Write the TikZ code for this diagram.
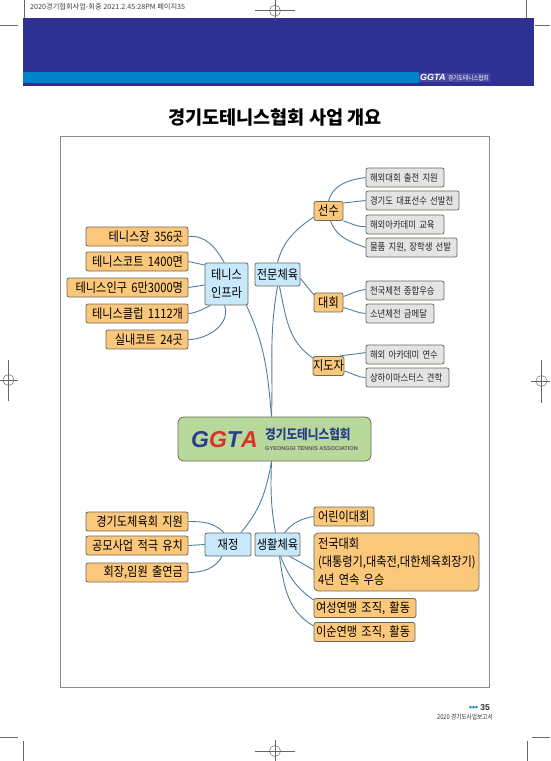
\documentclass[tikz,border=0pt]{standalone}
\usepackage{fontspec}
\setmainfont{Noto Sans CJK KR}
\newfontfamily\krnarrow[FakeStretch=0.86]{Noto Sans CJK KR}
\newfontfamily\logofont{Liberation Sans}
\definecolor{bandblue}{HTML}{2E3192}
\definecolor{bandcyan}{HTML}{0082C8}
\definecolor{linkblue}{HTML}{4F7F9F}
\definecolor{boxedge}{HTML}{6A6A5C}
\definecolor{orangefill}{HTML}{FBC77A}
\definecolor{bluefill}{HTML}{C7E9FB}
\definecolor{greyfill}{HTML}{E4E4E4}
\definecolor{greenfill}{HTML}{B9D89B}
\definecolor{logonavy}{HTML}{27408B}
\definecolor{logored}{HTML}{D8332A}
\usetikzlibrary{positioning, calc}
\tikzset{
  orangebox/.style = {draw=boxedge, fill=orangefill, thick, rounded corners=2pt,
                 inner xsep=5pt, inner ysep=0pt, minimum height=19pt,
                 font=\krnarrow\fontsize{13}{18}\selectfont, text=black},
  bluebox/.style = {draw=boxedge, fill=bluefill, thick, rounded corners=2pt,
                 inner sep=0pt, minimum height=23pt,
                 font=\krnarrow\fontsize{13}{18}\selectfont, text=black, align=center},
  greybox/.style = {draw=boxedge, fill=greyfill, thick, rounded corners=2pt,
                 inner xsep=4pt, inner ysep=0pt, minimum height=19pt,
                 font=\krnarrow\fontsize{9.7}{12}\selectfont, text=black!85},
  link/.style = {draw=linkblue, line width=0.9pt},
  printmark/.style = {draw=black!60, line width=0.5pt},
  markring/.style = {circle, draw=black!60, line width=0.5pt, minimum size=11pt, inner sep=0pt},
}
\begin{document}
\begin{tikzpicture}[x=1pt,y=-1pt]
  \useasboundingbox (0,0) rectangle (550,761);

  % -- header band
  \fill[bandblue] (23,18) rectangle (533.5,86);
  \fill[bandcyan] (23,72) rectangle (419,83);
  \node[fill=white, fill opacity=0.12, text opacity=1, inner sep=1pt, anchor=west, text=white,
        font=\logofont\bfseries\itshape\fontsize{9}{10}\selectfont] (toplogo) at (419,77.5)
        {GGTA \krnarrow\mdseries\upshape\fontsize{6.4}{7}\selectfont 경기도테니스협회};

  % -- print marks
  \node[anchor=west, inner sep=0pt, text=black!75, font=\fontsize{7.2}{8}\selectfont] (stamp) at (30,6.7)
        {2020경기협회사업-회중 2021.2.45:28PM 페이지35};
  \node[markring] (ringtop) at (275,10.7) {};
  \draw[printmark] (255,10.7) -- (295,10.7) (275,0) -- (275,20);
  \node[markring] (ringleft) at (8.5,380) {};
  \draw[printmark] (0,380) -- (18,380) (8.5,360) -- (8.5,401);
  \node[markring] (ringright) at (541.5,381) {};
  \draw[printmark] (531,381) -- (550,381) (541.5,360) -- (541.5,403);
  \node[markring] (ringbottom) at (275,751) {};
  \draw[printmark] (255,751) -- (295,751) (275,740) -- (275,761);
  \draw[printmark] (24,0) -- (24,18) (526,0) -- (526,18);
  \draw[printmark] (0,25) -- (18,25) (535,25) -- (550,25);
  \draw[printmark] (0,737) -- (18,737) (532,737) -- (550,737);
  \draw[printmark] (23.7,741) -- (23.7,761) (527,741) -- (527,761);

  % -- title and frame
  \node[font=\bfseries\fontsize{18.6}{22}\selectfont, inner sep=0pt] (title) at (275,117.5)
        {경기도테니스협회 사업 개요};
  \draw[black!45, line width=1pt] (60,136.5) rectangle (489.5,687);

  % -- centre logo
  \node[draw=boxedge, fill=greenfill, thick, rounded corners=6pt,
        minimum width=193pt, minimum height=44pt, inner sep=0pt] (centre) at (274.5,439) {};
  \node[anchor=west, inner sep=0pt, font=\logofont\bfseries\itshape\fontsize{23}{25}\selectfont] (logoword) at (191,440)
        {\textcolor{logonavy}{G}\textcolor{logored}{G}\textcolor{logonavy}{T}\textcolor{logored}{A}};
  \node[anchor=west, inner sep=0pt, text=logonavy, font=\bfseries\krnarrow\fontsize{13.5}{15}\selectfont] (logokr) at (265,434.5)
        {경기도테니스협회};
  \node[anchor=west, inner sep=0pt, text=black!65, font=\logofont\bfseries\fontsize{5.6}{7}\selectfont] (logoen) at (265,449)
        {GYEONGGI TENNIS ASSOCIATION};

  % -- infra side
  \node[orangebox, minimum width=102pt, text width=92pt, align=right] (court)  at (137,236.5) {테니스장 356곳};
  \node[orangebox, minimum width=102pt, text width=92pt, align=right] (courts) at (137,261.5) {테니스코트 1400면};
  \node[orangebox, minimum width=121pt, text width=111pt, align=right] (people) at (127.5,287.5) {테니스인구 6만3000명};
  \node[orangebox, minimum width=102pt, text width=92pt, align=right] (club)   at (137,313.5) {테니스클럽 1112개};
  \node[orangebox, minimum width=82pt, text width=72pt, align=right] (indoor) at (147,339.5) {실내코트 24곳};
  \node[bluebox, minimum width=43pt, minimum height=42pt] (infra) at (226.5,284) {테니스\\인프라};

  % -- elite side
  \node[bluebox, minimum width=45pt] (elite) at (277.5,274.5) {전문체육};
  \node[orangebox, minimum width=29pt, inner xsep=0pt] (player) at (328.5,211) {선수};
  \node[orangebox, minimum width=29pt, inner xsep=0pt] (match)  at (328.5,302.5) {대회};
  \node[orangebox, minimum width=29pt, inner xsep=0pt] (coach)  at (328.5,366) {지도자};

  \node[greybox, minimum width=78pt, text width=70pt, align=left] (ga) at (405,177.5) {해외대회 출전 지원};
  \node[greybox, minimum width=93pt, text width=85pt, align=left] (gb) at (412.5,200.5) {경기도 대표선수 선발전};
  \node[greybox, minimum width=78pt, text width=70pt, align=left] (gc) at (405,224.5) {해외아카데미 교육};
  \node[greybox, minimum width=91pt, text width=83pt, align=left] (gd) at (411.5,247.5) {물품 지원, 장학생 선발};
  \node[greybox, minimum width=78pt, text width=70pt, align=left] (ge) at (405,290.5) {전국체전 종합우승};
  \node[greybox, minimum width=68pt, text width=60pt, align=left] (gf) at (400,313.5) {소년체전 금메달};
  \node[greybox, minimum width=78pt, text width=70pt, align=left] (gg) at (405,354.5) {해외 아카데미 연수};
  \node[greybox, minimum width=83pt, text width=75pt, align=left] (gh) at (407.5,377.5) {상하이마스터스 견학};

  % -- finance side
  \node[orangebox, minimum width=102pt, text width=92pt, align=right] (aid)    at (137,521.5) {경기도체육회 지원};
  \node[orangebox, minimum width=102pt, text width=92pt, align=right] (bid)    at (137,545.5) {공모사업 적극 유치};
  \node[orangebox, minimum width=102pt, text width=92pt, align=right] (fund)   at (137,572.5) {회장,임원 출연금};
  \node[bluebox, minimum width=46pt] (money) at (228,544.5) {재정};

  % -- community side
  \node[bluebox, minimum width=45pt] (life) at (277.5,544.5) {생활체육};
  \node[orangebox, minimum width=60pt, text width=52pt, inner xsep=4pt, align=left] (kids)  at (344,516.5) {어린이대회};
  \node[orangebox, minimum width=165pt, minimum height=58pt, text width=157pt, inner xsep=4pt, align=left, rounded corners=4pt] (nation) at (396.5,562)
        {전국대회\\(대통령기,대축전,대한체육회장기)\\4년 연속 우승};
  \node[orangebox, minimum width=102pt, text width=98pt, inner xsep=2pt, align=left] (women) at (365,608) {여성연맹 조직, 활동};
  \node[orangebox, minimum width=101pt, text width=97pt, inner xsep=2pt, align=left] (senior) at (364.5,632) {이순연맹 조직, 활동};

  % -- connectors
  \draw[link] (court.east) to[out=5, in=120] ($(infra.north west)!0.45!(infra.north east)$);
  \draw[link] (courts.east) -- ($(infra.west)+(0,-19)$);
  \draw[link] (people.east) -- ($(infra.west)+(0,1)$);
  \draw[link] (club.east) to[out=5, in=205] ($(infra.south west)+(6,0)$);
  \draw[link] (indoor.east) to[out=0, in=-70] ($(infra.south)+(-2,0)$);
  \draw[link] ($(infra.south east)+(-2,0)$) to[out=-65, in=95] ($(centre.north)+(-3,0)$);
  \draw[link] (elite.south) to[out=-100, in=88] ($(centre.north)+(-3,0)$);
  \draw[link] (elite.north) to[out=75, in=215] ($(player.west)+(0,6)$);
  \draw[link] ($(elite.east)+(0,4)$) -- ($(match.west)+(0,-8)$);
  \draw[link] ($(elite.south)+(2,0)$) to[out=-78, in=145] ($(coach.west)+(0,-8)$);

  \draw[link] (player.north) to[out=75, in=188] (ga.west);
  \draw[link] ($(player.east)+(0,-8)$) -- (gb.west);
  \draw[link] ($(player.east)+(0,10)$) to[out=-15, in=185] ($(gc.west)+(0,2)$);
  \draw[link] ($(player.south)+(2,0)$) to[out=-70, in=160] (gd.west);
  \draw[link] ($(match.east)+(0,-6)$) to[out=20, in=188] ($(ge.west)+(0,-1)$);
  \draw[link] ($(match.east)+(0,5)$) to[out=-15, in=175] (gf.west);
  \draw[link] ($(coach.north)+(11,0)$) to[out=10, in=190] ($(gg.west)+(0,-2)$);
  \draw[link] ($(coach.east)+(0,5)$) to[out=-15, in=178] (gh.west);

  \draw[link] ($(centre.south)+(-3,0)$) to[out=-100, in=50] ($(money.north)+(13,0)$);
  \draw[link] ($(centre.south)+(-3,0)$) to[out=-92, in=100] ($(life.north)+(-2,0)$);
  \draw[link] (aid.east) to[out=0, in=135] ($(money.north)+(-4,0)$);
  \draw[link] (bid.east) -- (money.west);
  \draw[link] (fund.east) to[out=0, in=-120] ($(money.south)+(-6,0)$);

  \draw[link] ($(life.north)+(7,0)$) to[out=50, in=190] (kids.west);
  \draw[link] ($(life.south)+(12,0)$) to[out=-28, in=150] ($(nation.west)+(0,8)$);
  \draw[link] ($(life.south)+(3,0)$) to[out=-68, in=145] ($(women.west)+(0,-8)$);
  \draw[link] ($(life.south)+(2,0)$) to[out=-82, in=150] ($(senior.west)+(0,-6)$);

  % -- page foot
  \node[anchor=east, inner sep=0pt, font=\logofont\bfseries\fontsize{8.5}{9}\selectfont, text=black!80] (pageno) at (490,708) {\textcolor{bandcyan}{\textbullet\textbullet\textbullet}~35};
  \node[anchor=east, inner sep=0pt, font=\krnarrow\fontsize{6.6}{8}\selectfont, text=black!80] (report) at (493,717) {2020 경기도사업보고서};
\end{tikzpicture}
\end{document}
